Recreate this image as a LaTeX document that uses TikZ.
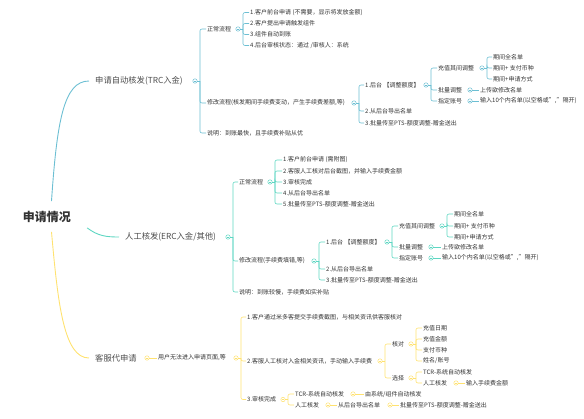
\documentclass[tikz,border=0pt]{standalone}
\usepackage{fontspec}
\setmainfont{Noto Sans CJK SC}
\usepackage{tikz}

\definecolor{trcline}{HTML}{6CBFD3}
\definecolor{ercline}{HTML}{5DD6C2}
\definecolor{kfline}{HTML}{FFE270}
\definecolor{inktext}{HTML}{333333}

% bracket from a fold marker to its children
\newcommand\branchfork[3]{%
  \draw[link=#1] (#2.east) -- ++(2.5,0);
  \foreach \kid in {#3}{\draw[link=#1, rounded corners=2pt] (#2.east) ++(2.5,0) |- (\kid.west);}%
}

\begin{document}
\begin{tikzpicture}[
  x=1pt, y=-1pt,
  rootnode/.style={font=\fontsize{12}{14}\selectfont\bfseries, text=inktext, inner sep=3pt},
  topic/.style={font=\fontsize{8.3}{10}\selectfont, text=black!70, anchor=west, inner xsep=6pt, inner ysep=1pt},
  leaf/.style={font=\fontsize{6}{7}\selectfont, text=inktext, anchor=west, inner sep=1pt},
  fold/.style={circle, draw=#1, fill=white, line width=0.5pt, minimum size=4.4pt, inner sep=0pt,
    path picture={\draw[#1, line width=0.5pt] ([xshift=0.9pt]path picture bounding box.west) -- ([xshift=-0.9pt]path picture bounding box.east);}},
  link/.style={draw=#1, line width=0.6pt},
  limb/.style={draw=#1, line width=0.9pt}
]
  \useasboundingbox (0,0) rectangle (584,418);

  \node[rootnode] (root) at (47,217) {申请情况};

  % TRC branch
  \node[topic] (trc) at (89,81) {申请自动核发(TRC入金)};
  \node[fold=trcline] (trc-m) at (195,81) {};
  \node[leaf] (trc-a) at (206,29) {正常流程};
  \node[leaf] (trc-b) at (206,103) {修改流程(核发期间手续费变动，产生手续费差额,等)};
  \node[leaf] (trc-c) at (206,133) {说明：到账最快，且手续费补贴从优};
  \node[fold=trcline] (trc-a-m) at (238,29) {};
  \node[leaf] (trc-a1) at (249,12.5) {1.客户前台申请 (不需要，显示将发放金额)};
  \node[leaf] (trc-a2) at (249,23.5) {2.客户提出申请触发组件};
  \node[leaf] (trc-a3) at (249,34.5) {3.组件自动到账};
  \node[leaf] (trc-a4) at (249,45.5) {4.后台审核状态：通过 /审核人：系统};
  \node[fold=trcline] (trc-b-m) at (354,103) {};
  \node[leaf] (trc-b1) at (364,85) {1.后台 【调整额度】};
  \node[leaf] (trc-b2) at (364,111) {2.从后台导出名单};
  \node[leaf] (trc-b3) at (364,123) {3.批量传至PTS-额度调整-赠金送出};
  \node[fold=trcline] (trc-b1-m) at (426,85) {};
  \node[leaf] (trc-cz) at (437,68) {充值其间调整};
  \node[leaf] (trc-pl) at (437,90) {批量调整};
  \node[leaf] (trc-zd) at (437,101) {指定账号};
  \node[fold=trcline] (trc-cz-m) at (482,68) {};
  \node[leaf] (trc-cz1) at (492,57) {期间全名单};
  \node[leaf] (trc-cz2) at (492,68) {期间+ 支付币种};
  \node[leaf] (trc-cz3) at (492,79) {期间+申请方式};
  \node[fold=trcline] (trc-pl-m) at (470,90) {};
  \node[leaf] (trc-pl1) at (479,90) {上传欲修改名单};
  \node[fold=trcline] (trc-zd-m) at (470,101) {};
  \node[leaf] (trc-zd1) at (479,101) {输入10个内名单(以空格或","隔开)};

  % ERC branch
  \node[topic] (erc) at (119,237) {人工核发(ERC入金/其他)};
  \node[fold=ercline] (erc-m) at (228,237) {};
  \node[leaf] (erc-a) at (238,182) {正常流程};
  \node[leaf] (erc-b) at (238,261) {修改流程(手续费填错,等)};
  \node[leaf] (erc-c) at (238,292) {说明：到账较慢，手续费如实补贴};
  \node[fold=ercline] (erc-a-m) at (270,182) {};
  \node[leaf] (erc-a1) at (282,160) {1.客户前台申请 (需附图)};
  \node[leaf] (erc-a2) at (282,171) {2.客服人工核对后台截图，并输入手续费金额};
  \node[leaf] (erc-a3) at (282,182) {3.审核完成};
  \node[leaf] (erc-a4) at (282,193) {4.从后台导出名单};
  \node[leaf] (erc-a5) at (282,204) {5.批量传至PTS-额度调整-赠金送出};
  \node[fold=ercline] (erc-b-m) at (314,261) {};
  \node[leaf] (erc-b1) at (325,242) {1.后台 【调整额度】};
  \node[leaf] (erc-b2) at (325,269) {2.从后台导出名单};
  \node[leaf] (erc-b3) at (325,280) {3.批量传至PTS-额度调整-赠金送出};
  \node[fold=ercline] (erc-b1-m) at (387,242) {};
  \node[leaf] (erc-cz) at (398,226) {充值其间调整};
  \node[leaf] (erc-pl) at (398,247) {批量调整};
  \node[leaf] (erc-zd) at (398,258) {指定账号};
  \node[fold=ercline] (erc-cz-m) at (442,226) {};
  \node[leaf] (erc-cz1) at (453,214) {期间全名单};
  \node[leaf] (erc-cz2) at (453,226) {期间+ 支付币种};
  \node[leaf] (erc-cz3) at (453,237) {期间+申请方式};
  \node[fold=ercline] (erc-pl-m) at (431,247) {};
  \node[leaf] (erc-pl1) at (441,247) {上传欲修改名单};
  \node[fold=ercline] (erc-zd-m) at (431,258) {};
  \node[leaf] (erc-zd1) at (441,258) {输入10个内名单(以空格或","隔开)};

  % service branch
  \node[topic] (kf) at (89,358) {客服代申请};
  \node[fold=kfline] (kf-m) at (147,358) {};
  \node[leaf] (kf-a) at (157,358) {用户无法进入申请页面,等};
  \node[fold=kfline] (kf-a-m) at (236,358) {};
  \node[leaf] (kf-1) at (246,317) {1.客户通过米多客提交手续费截图，与相关资讯供客服核对};
  \node[leaf] (kf-2) at (246,361) {2.客服人工核对入金相关资讯，手动输入手续费};
  \node[leaf] (kf-3) at (246,399.5) {3.审核完成};
  \node[fold=kfline] (kf-2-m) at (380,361) {};
  \node[leaf] (kf-hd) at (391,344) {核对};
  \node[leaf] (kf-xz) at (391,378) {选择};
  \node[fold=kfline] (kf-hd-m) at (411,344) {};
  \node[leaf] (kf-hd1) at (422,328) {充值日期};
  \node[leaf] (kf-hd2) at (422,339) {充值金额};
  \node[leaf] (kf-hd3) at (422,350) {支付币种};
  \node[leaf] (kf-hd4) at (422,361) {姓名/账号};
  \node[fold=kfline] (kf-xz-m) at (411,378) {};
  \node[leaf] (kf-xz1) at (422,372) {TCR-系统自动核发};
  \node[leaf] (kf-xz2) at (422,383) {人工核发};
  \node[fold=kfline] (kf-xz2-m) at (456,383) {};
  \node[leaf] (kf-xz2a) at (465,383) {输入手续费金额};
  \node[fold=kfline] (kf-3-m) at (283,399.5) {};
  \node[leaf] (kf-3a) at (294,394) {TCR-系统自动核发};
  \node[leaf] (kf-3b) at (294,405) {人工核发};
  \node[fold=kfline] (kf-3a-m) at (353,394) {};
  \node[leaf] (kf-3a1) at (364,394) {由系统/组件自动核发};
  \node[fold=kfline] (kf-3b-m) at (328,405) {};
  \node[leaf] (kf-3b1) at (337,405) {从后台导出名单};
  \node[fold=kfline] (kf-3b1-m) at (390,405) {};
  \node[leaf] (kf-3b2) at (399,405) {批量传至PTS-额度调整-赠金送出};

  % main limbs
  \draw[limb=trcline] ([xshift=4.5pt,yshift=7pt]root.north) .. controls (57,120) and (64,81) .. (trc.west);
  \draw[limb=ercline] ([xshift=13pt,yshift=-2pt]root.south east) .. controls (98,236) and (106,237) .. (erc.west);
  \draw[limb=kfline] ([xshift=4.5pt,yshift=-6pt]root.south) .. controls (58,305) and (64,358) .. (kf.west);

  % brackets
  \branchfork{trcline}{trc-m}{trc-a,trc-b,trc-c}
  \branchfork{trcline}{trc-a-m}{trc-a1,trc-a2,trc-a3,trc-a4}
  \branchfork{trcline}{trc-b-m}{trc-b1,trc-b2,trc-b3}
  \branchfork{trcline}{trc-b1-m}{trc-cz,trc-pl,trc-zd}
  \branchfork{trcline}{trc-cz-m}{trc-cz1,trc-cz2,trc-cz3}
  \draw[link=trcline] (trc-pl-m) -- (trc-pl1);
  \draw[link=trcline] (trc-zd-m) -- (trc-zd1);

  \branchfork{ercline}{erc-m}{erc-a,erc-b,erc-c}
  \branchfork{ercline}{erc-a-m}{erc-a1,erc-a2,erc-a3,erc-a4,erc-a5}
  \branchfork{ercline}{erc-b-m}{erc-b1,erc-b2,erc-b3}
  \branchfork{ercline}{erc-b1-m}{erc-cz,erc-pl,erc-zd}
  \branchfork{ercline}{erc-cz-m}{erc-cz1,erc-cz2,erc-cz3}
  \draw[link=ercline] (erc-pl-m) -- (erc-pl1);
  \draw[link=ercline] (erc-zd-m) -- (erc-zd1);

  \draw[link=kfline] (kf-m) -- (kf-a);
  \branchfork{kfline}{kf-a-m}{kf-1,kf-2,kf-3}
  \branchfork{kfline}{kf-2-m}{kf-hd,kf-xz}
  \branchfork{kfline}{kf-hd-m}{kf-hd1,kf-hd2,kf-hd3,kf-hd4}
  \branchfork{kfline}{kf-xz-m}{kf-xz1,kf-xz2}
  \draw[link=kfline] (kf-xz2-m) -- (kf-xz2a);
  \branchfork{kfline}{kf-3-m}{kf-3a,kf-3b}
  \draw[link=kfline] (kf-3a-m) -- (kf-3a1);
  \draw[link=kfline] (kf-3b-m) -- (kf-3b1);
  \draw[link=kfline] (kf-3b1-m) -- (kf-3b2);
\end{tikzpicture}
\end{document}
